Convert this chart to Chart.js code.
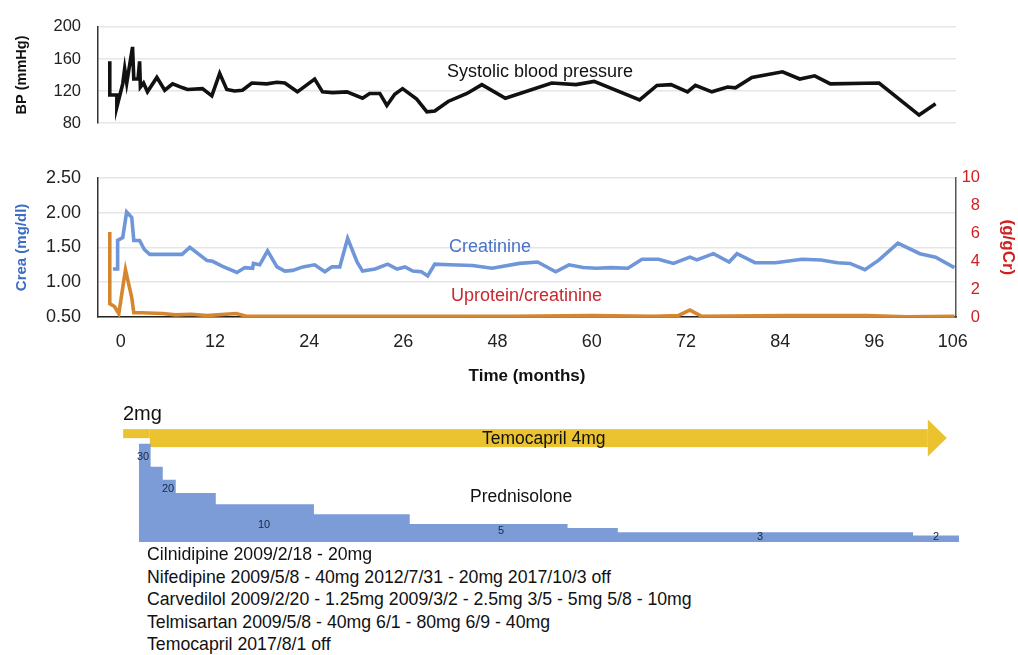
<html lang="en">
<head>
  <meta charset="UTF-8">
  <title>BP, creatinine and treatment timeline</title>
  <script src="https://cdn.jsdelivr.net/npm/chart.js"></script>
  <style>
    body { margin: 0; background: #fff; }
    #page { position: relative; width: 1018px; height: 655px; overflow: hidden; font-family: 'Liberation Sans', Arial, sans-serif; }
    canvas { position: absolute; left: 0; }
    .t { position: absolute; white-space: nowrap; line-height: 1; }
    .step { position: absolute; font-size: 11px; line-height: 1; color: #1b2540; }
    .drug { position: absolute; left: 147px; font-size: 17.7px; line-height: 1; color: #111; white-space: nowrap; }
  </style>
</head>

<body>
  <div id="page">
    <canvas id="bpChart" width="1018" height="150" style="top:0"></canvas>
    <canvas id="creaChart" width="1018" height="245" style="top:150px"></canvas>
    <canvas id="rxChart" width="1018" height="160" style="top:395px"></canvas>

    <div class="t" style="left:447px;top:62px;font-size:18px;color:#111">Systolic blood pressure</div>
    <div class="t" style="left:449px;top:237px;font-size:18px;color:#4a74c6">Creatinine</div>
    <div class="t" style="left:451px;top:286px;font-size:18px;color:#c8282e">Uprotein/creatinine</div>

    <div class="t" style="left:123px;top:403px;font-size:20px;color:#111">2mg</div>
    <div class="t" style="left:482px;top:430px;font-size:17.5px;color:#111">Temocapril 4mg</div>
    <div class="t" style="left:470px;top:488px;font-size:17.5px;color:#111">Prednisolone</div>
    <div class="step" style="left:137px;top:451px">30</div>
    <div class="step" style="left:162px;top:483px">20</div>
    <div class="step" style="left:258px;top:519px">10</div>
    <div class="step" style="left:498px;top:525px">5</div>
    <div class="step" style="left:757px;top:531px">3</div>
    <div class="step" style="left:933px;top:531px">2</div>

    <div class="drug" style="top:546px">Cilnidipine 2009/2/18 - 20mg</div>
    <div class="drug" style="top:568.5px">Nifedipine 2009/5/8 - 40mg 2012/7/31 - 20mg 2017/10/3 off</div>
    <div class="drug" style="top:591px">Carvedilol 2009/2/20 - 1.25mg 2009/3/2 - 2.5mg 3/5 - 5mg 5/8 - 10mg</div>
    <div class="drug" style="top:613.5px">Telmisartan 2009/5/8 - 40mg 6/1 - 80mg 6/9 - 40mg</div>
    <div class="drug" style="top:636px">Temocapril 2017/8/1 off</div>
  </div>

  <script>
    // time axis (months)
    const tickMonths = [0, 12, 24, 36, 48, 60, 72, 84, 96, 106];
    const tickLabels = ['0', '12', '24', '26', '48', '60', '72', '84', '96', '106'];

    // systolic BP (mmHg)
    const bpMonths = [-1.4, -1.4, -0.5, -0.5, 0.25, 0.5, 0.76, 1.5, 1.66, 2.2, 2.4, 2.5, 2.9, 3.4, 4.6, 5.6, 6.6, 7.9,
      8.5, 10.4, 11.6, 12.6, 13.5, 14.5, 15.5, 16.7, 18.6, 19.9, 20.9, 22.5, 24.7, 25.7, 27.0, 28.8, 30.8, 31.7,
      33.0, 33.9, 34.9, 35.9, 37.7, 39.0, 40.0, 41.7, 44.1, 46.0, 49.0, 54.9, 58.0, 60.3, 66.1, 68.3, 70.1, 72.2,
      73.2, 75.3, 77.3, 78.3, 80.4, 84.3, 86.5, 88.4, 90.4, 96.6, 101.7, 103.8];
    const bpValues = [157, 115, 115, 100, 129, 148, 130, 175, 135, 135, 157, 125, 130, 119, 137, 121, 129, 124,
      122, 123, 114, 142, 122, 120, 121, 130, 129, 131, 130, 119, 135, 119, 118, 119, 111, 117,
      117, 102, 116, 123, 110, 94, 95, 107, 117, 128, 111, 130, 128, 132, 109, 127, 128, 119,
      127, 119, 125, 124, 137, 144, 135, 139, 129, 130, 90, 104];

    // creatinine (mg/dl)
    const creaMonths = [-1.0, -0.4, -0.4, 0.25, 0.75, 1.4, 1.66, 2.4, 3.0, 3.7, 7.8, 8.8, 11.0, 11.7, 12.9, 14.8,
      15.8, 16.8, 16.9, 17.7, 18.7, 19.9, 20.9, 21.9, 23.2, 24.7, 26.0, 26.9, 27.9, 28.9, 30.1, 30.8, 32.4, 34.0,
      35.2, 36.2, 37.2, 38.3, 39.1, 40.0, 41.9, 44.8, 47.3, 50.8, 53.1, 55.4, 57.1, 58.9, 60.6, 62.4, 64.6, 66.4,
      68.5, 70.4, 72.5, 73.4, 75.5, 77.5, 78.5, 80.8, 83.4, 86.8, 89.2, 91.3, 92.9, 94.8, 96.6, 99.0, 101.8,
      103.8, 106.2];
    const creaValues = [1.19, 1.19, 1.60, 1.64, 2.01, 1.93, 1.60, 1.60, 1.47, 1.40, 1.40, 1.50, 1.31, 1.30, 1.23, 1.14,
      1.21, 1.20, 1.27, 1.25, 1.45, 1.22, 1.16, 1.17, 1.22, 1.25, 1.15, 1.22, 1.22, 1.63, 1.29, 1.16, 1.19, 1.26,
      1.19, 1.22, 1.16, 1.15, 1.09, 1.26, 1.25, 1.24, 1.20, 1.27, 1.29, 1.15, 1.25, 1.21, 1.20, 1.21, 1.20, 1.33,
      1.33, 1.27, 1.36, 1.32, 1.41, 1.29, 1.41, 1.28, 1.28, 1.33, 1.32, 1.28, 1.27, 1.18, 1.32, 1.56, 1.41,
      1.36, 1.21];

    // urine protein / creatinine (g/gCr)
    const uprotMonths = [-1.4, -1.4, -0.8, -0.25, 0.6, 1.4, 1.66, 2.6, 5.3, 7.0, 9.0, 11.0, 14.7, 16.0, 30.0,
      50.0, 60.0, 68.0, 71.0, 72.5, 74.0, 85.0, 95.0, 100.0, 106.2];
    const uprotValues = [6.1, 0.96, 0.75, 0.24, 3.4, 1.4, 0.3, 0.3, 0.25, 0.15, 0.2, 0.1, 0.25, 0.05, 0.05,
      0.05, 0.1, 0.05, 0.1, 0.5, 0.05, 0.1, 0.1, 0.02, 0.05];

    // prednisolone dose steps (mg/day), value held until next month
    const predMonths = [2.3, 3.8, 5.35, 7.0, 12.1, 24.6, 36.8, 56.9, 63.3, 100.9, 106.75];
    const predDose = [30, 23, 19, 15, 11.5, 8.5, 5.5, 4.3, 3, 2, 2];

    // temocapril phases (mg)
    const temoFrom = [0.3, 3.7];
    const temoTo = [3.7, 105.2];
    const temoDose = [2, 4];

    const X_MIN = -2.9;
    const X_MAX = 106.4;

    Chart.defaults.font.family = "'Liberation Sans', Arial, sans-serif";
    Chart.defaults.color = '#222';

    const pts = (xs, ys) => xs.map((x, i) => ({ x: x, y: ys[i] }));
    const gridStyle = { color: '#e6e6e6', lineWidth: 1.5, drawTicks: false };
    const noChrome = { legend: { display: false }, tooltip: { enabled: false } };

    new Chart(document.getElementById('bpChart'), {
      type: 'line',
      data: {
        datasets: [{
          data: pts(bpMonths, bpValues),
          borderColor: '#111',
          borderWidth: 3.6,
          pointRadius: 0
        }]
      },
      options: {
        responsive: false,
        animation: false,
        plugins: noChrome,
        layout: { padding: { top: 18, bottom: 13, left: 0, right: 62 } },
        scales: {
          x: { type: 'linear', min: X_MIN, max: X_MAX, display: false },
          y: {
            min: 80, max: 200,
            afterFit: (s) => { s.width = 98; },
            ticks: { stepSize: 40, padding: 17, font: { size: 16.5 }, color: '#222' },
            grid: gridStyle,
            border: { color: '#333', width: 1.5 },
            title: { display: true, text: 'BP (mmHg)', color: '#111', font: { size: 14.5, weight: 'bold' }, padding: { top: 13 } }
          }
        }
      }
    });

    new Chart(document.getElementById('creaChart'), {
      type: 'line',
      data: {
        datasets: [{
          data: pts(creaMonths, creaValues),
          borderColor: '#6e96d8',
          borderWidth: 3.6,
          pointRadius: 0,
          yAxisID: 'y'
        }, {
          data: pts(uprotMonths, uprotValues),
          borderColor: '#d6862f',
          borderWidth: 3.6,
          pointRadius: 0,
          yAxisID: 'y1'
        }]
      },
      options: {
        responsive: false,
        animation: false,
        plugins: noChrome,
        layout: { padding: { top: 11, bottom: 0, left: 0, right: 38 } },
        scales: {
          x: {
            type: 'linear', min: X_MIN, max: X_MAX,
            afterBuildTicks: (s) => { s.ticks = tickMonths.map(v => ({ value: v })); },
            afterFit: (s) => { s.height = 78; },
            ticks: { callback: (v, i) => tickLabels[i], autoSkip: false, maxRotation: 0, padding: 14, font: { size: 18 }, color: '#222' },
            grid: { display: false, drawTicks: false },
            border: { color: '#222', width: 1.5 },
            title: { display: true, text: 'Time (months)', color: '#111', font: { size: 17, weight: 'bold' }, padding: { top: 0, bottom: 8 } }
          },
          y: {
            position: 'left', min: 0.5, max: 2.5,
            afterFit: (s) => { s.width = 98; },
            ticks: { stepSize: 0.5, callback: v => v.toFixed(2), padding: 17, font: { size: 18 }, color: '#222' },
            grid: gridStyle,
            border: { color: '#333', width: 1.5 },
            title: { display: true, text: 'Crea (mg/dl)', color: '#3d6cc4', font: { size: 15, weight: 'bold' }, padding: { top: 13 } }
          },
          y1: {
            position: 'right', min: 0, max: 10,
            // labels right-aligned at the scale's right edge; title pushed out into the padding
            afterFit: (s) => { s.width = 24; },
            ticks: { stepSize: 2, crossAlign: 'far', padding: 6, font: { size: 16.5 }, color: '#d02020' },
            grid: { display: false, drawTicks: false },
            border: { color: '#555', width: 1.5 },
            title: { display: true, text: '(g/gCr)', color: '#d02020', font: { size: 17, weight: 'bold' }, padding: { top: -38 } }
          }
        }
      }
    });

    // yellow temocapril arrow, thickness follows the dose
    const temoArrow = {
      id: 'temoArrow',
      beforeDatasetsDraw(chart, args, opts) {
        const { ctx, scales: { x, y } } = chart;
        const top = y.getPixelForValue(opts.level);
        ctx.save();
        ctx.fillStyle = opts.color;
        temoFrom.forEach((from, i) => {
          const x0 = x.getPixelForValue(from);
          const x1 = x.getPixelForValue(temoTo[i]);
          const h = temoDose[i] * opts.pxPerMg;
          const last = i === temoFrom.length - 1;
          const bodyEnd = last ? x1 - opts.headLength : x1;
          ctx.fillRect(x0, top, bodyEnd - x0, h);
          if (last) {
            const cy = top + h / 2;
            ctx.beginPath();
            ctx.moveTo(bodyEnd, cy - opts.headHalf);
            ctx.lineTo(x1, cy);
            ctx.lineTo(bodyEnd, cy + opts.headHalf);
            ctx.closePath();
            ctx.fill();
          }
        });
        ctx.restore();
      }
    };

    new Chart(document.getElementById('rxChart'), {
      type: 'line',
      data: {
        datasets: [{
          data: pts(predMonths, predDose),
          stepped: true,
          fill: 'origin',
          backgroundColor: '#7c9cd8',
          borderColor: 'rgba(0,0,0,0)',
          borderWidth: 0,
          pointRadius: 0
        }]
      },
      options: {
        responsive: false,
        animation: false,
        plugins: {
          legend: { display: false },
          tooltip: { enabled: false },
          temoArrow: { level: 34.5, pxPerMg: 4.5, headLength: 19, headHalf: 18.5, color: '#ebc331' }
        },
        layout: { padding: { top: 5, bottom: 13, left: 98, right: 59 } },
        scales: {
          x: { type: 'linear', min: X_MIN, max: 106.75, display: false },
          y: { min: 0, max: 43.4, display: false }
        }
      },
      plugins: [temoArrow]
    });
  </script>
</body>
</html>
